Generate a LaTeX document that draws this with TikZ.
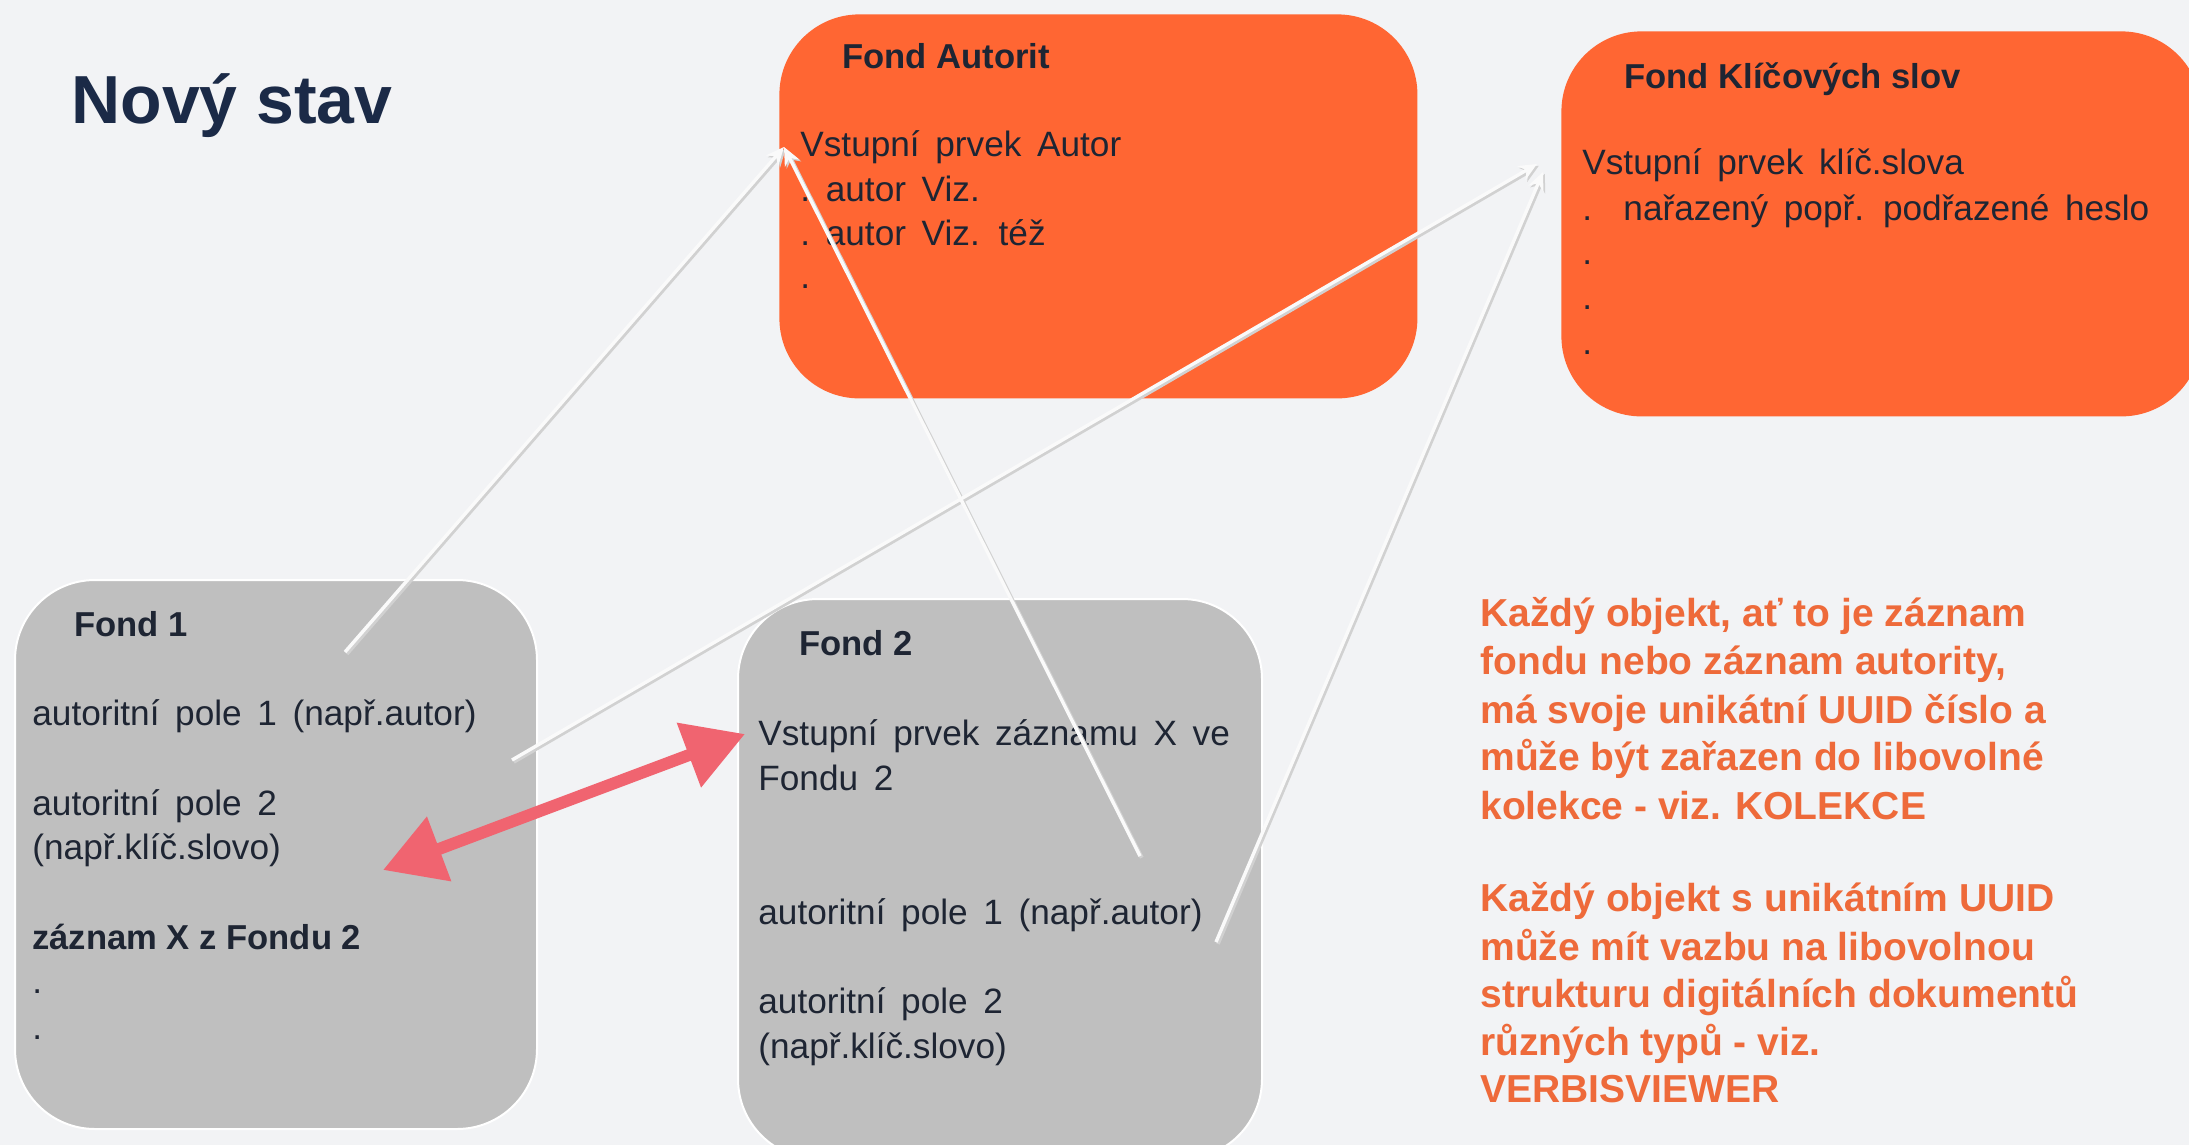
\documentclass[tikz,border=0pt]{standalone}
\usepackage{fontspec}
\setmainfont{Liberation Sans}
\newfontfamily\bodyfont[WordSpace=1.6]{Liberation Sans}
\usetikzlibrary{arrows.meta}
\definecolor{bg}{HTML}{F2F3F5}
\definecolor{orng}{HTML}{FF6633}
\definecolor{grybox}{HTML}{BFBFBF}
\definecolor{navy}{HTML}{1B2A47}
\definecolor{ink}{HTML}{1E2533}
\definecolor{otext}{HTML}{EE6A3A}
\definecolor{redarr}{HTML}{F06470}
\definecolor{lnk}{HTML}{FAFAFA}
\begin{document}
\begin{tikzpicture}[x=0.5pt,y=-0.5pt,
  obox/.style={fill=orng, rounded corners=40pt, anchor=north west, inner sep=0pt},
  gbox/.style={fill=grybox, draw=white, line width=1pt, rounded corners=40pt, anchor=north west, inner sep=0pt},
  txt/.style={anchor=base west, inner sep=0pt, text=ink, font=\bodyfont\fontsize{17.6}{20}\selectfont},
  hdr/.style={anchor=base west, inner sep=0pt, text=ink, font=\bfseries\fontsize{17.3}{20}\selectfont},
  note/.style={anchor=base west, inner sep=0pt, text=otext, font=\bfseries\fontsize{19.5}{24}\selectfont},
  conn/.style={lnk, line width=1.7pt, -{Stealth[length=9pt,width=8pt]}},
  connshadow/.style={black!18, line width=2pt, -{Stealth[length=9pt,width=8pt]}, transform canvas={shift={(0.9pt,-0.9pt)}}},
  redconn/.style={redarr, line width=6pt, {Triangle[length=30pt,width=33pt]}-{Triangle[length=30pt,width=33pt]}}]
\useasboundingbox (0,0) rectangle (2189,1145);
\fill[bg] (0,0) rectangle (2189,1145);

% title
\node[anchor=base west, inner sep=0pt, text=navy, font=\bfseries\fontsize{34}{40}\selectfont] (title) at (71,124) {Nový stav};

% boxes
\node[obox, minimum width=319pt, minimum height=192pt] (fa) at (779,14) {};
\node[obox, minimum width=320pt, minimum height=192.5pt] (fk) at (1561,31) {};
\node[gbox, minimum width=261pt, minimum height=274.5pt] (f1) at (14,579) {};
\node[gbox, minimum width=262pt, minimum height=280pt] (f2) at (737,598) {};

% Fond Autorit text
\node[hdr] (fah) at (842,69) {Fond Autorit};
\node[txt] (fa1) at (800,156) {Vstupní prvek Autor};
\node[txt] (fa2) at (800,201) {.\ autor Viz.};
\node[txt] (fa3) at (800,245) {.\ autor Viz. též};
\node[txt] (fa4) at (800,288) {.};

% Fond Klíčových slov text
\node[hdr] (fkh) at (1624,89) {Fond Klíčových slov};
\node[txt] (fk1) at (1582,175) {Vstupní prvek klíč.slova};
\node[txt] (fk2) at (1582,220) {.\ \ nařazený popř. podřazené heslo};
\node[txt] (fk3) at (1582,264) {.};
\node[txt] (fk4) at (1582,309) {.};
\node[txt] (fk5) at (1582,354) {.};

% Fond 1 text
\node[hdr] (f1h) at (74,636) {Fond 1};
\node[txt] (f1a) at (32,725) {autoritní pole 1 (např.autor)};
\node[txt] (f1b) at (32,815) {autoritní pole 2};
\node[txt] (f1c) at (32,859) {(např.klíč.slovo)};
\node[hdr] (f1d) at (32,949) {záznam X z Fondu 2};
\node[txt] (f1e) at (32,993) {.};
\node[txt] (f1f) at (32,1039) {.};

% Fond 2 text
\node[hdr] (f2h) at (799,655) {Fond 2};
\node[txt] (f2a) at (758,745) {Vstupní prvek záznamu X ve};
\node[txt] (f2b) at (758,790) {Fondu 2};
\node[txt] (f2c) at (758,924) {autoritní pole 1 (např.autor)};
\node[txt] (f2d) at (758,1013) {autoritní pole 2};
\node[txt] (f2e) at (758,1058) {(např.klíč.slovo)};

% notes
\node[note] (n1) at (1480,626) {Každý objekt, ať to je záznam};
\node[note] (n2) at (1480,674) {fondu nebo záznam autority,};
\node[note] (n3) at (1480,723) {má svoje unikátní UUID číslo a};
\node[note] (n4) at (1480,770) {může být zařazen do libovolné};
\node[note] (n5) at (1480,819) {kolekce - viz. KOLEKCE};
\node[note] (n6) at (1480,911) {Každý objekt s unikátním UUID};
\node[note] (n7) at (1480,960) {může mít vazbu na libovolnou};
\node[note] (n8) at (1480,1007) {strukturu digitálních dokumentů};
\node[note] (n9) at (1480,1055) {různých typů - viz.};
\node[note] (n10) at (1480,1102) {VERBISVIEWER};

% connector endpoints
\coordinate (fa-in) at (784,147);
\coordinate (fk-in1) at (1537,164);
\coordinate (fk-in2) at (1543,172);
\coordinate (f1-a) at (345,652);
\coordinate (f1-k) at (512,760);
\coordinate (f2-a) at (1140,856);
\coordinate (f2-k) at (1216,942);
\coordinate (r1) at (383,870);
\coordinate (r2) at (745,734);

\draw[connshadow] (f1-a) -- (fa-in);
\draw[connshadow] (f1-k) -- (fk-in1);
\draw[connshadow] (f2-a) -- (fa-in);
\draw[connshadow] (f2-k) -- (fk-in2);
\draw[conn] (f1-a) -- (fa-in);
\draw[conn] (f1-k) -- (fk-in1);
\draw[conn] (f2-a) -- (fa-in);
\draw[conn] (f2-k) -- (fk-in2);
\draw[redconn] (r1) -- (r2);
\end{tikzpicture}
\end{document}
